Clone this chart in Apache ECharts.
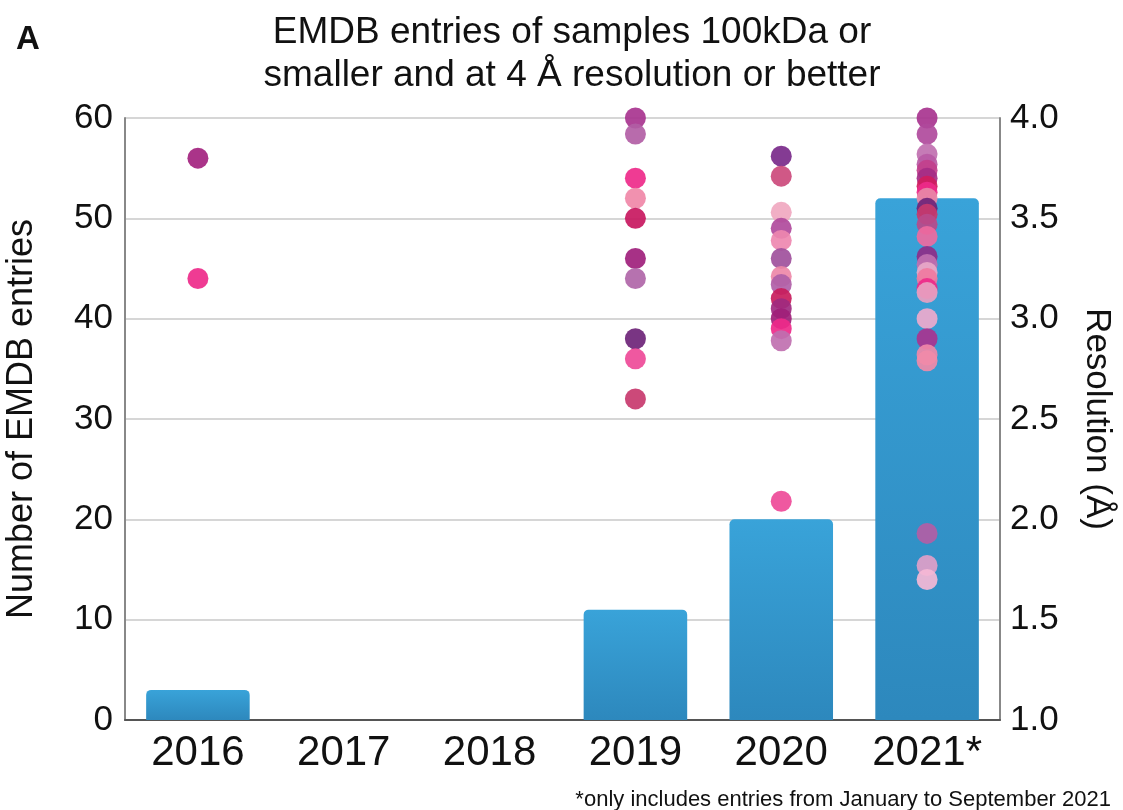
<!DOCTYPE html>
<html>
<head>
<meta charset="utf-8">
<script src="https://cdn.jsdelivr.net/npm/echarts@6/dist/echarts.min.js"></script>
<style>
html, body { margin: 0; padding: 0; background: #fff; }
#chart { width: 1123px; height: 810px; }
</style>
</head>
<body>
<div id="chart"></div>
<script>
// categories and bar counts
const years = ['2016', '2017', '2018', '2019', '2020', '2021*'];
const entryCounts = [3, 0, 0, 11, 20, 52];

// resolution (Å) of individual entries, per year
const res2016 = [3.8, 3.2];
const res2019 = [4.0, 3.92, 3.7, 3.6, 3.5, 3.3, 3.2, 2.9, 2.8, 2.6];
const res2020 = [3.81, 3.71, 3.53, 3.45, 3.39, 3.3, 3.21, 3.17, 3.1, 3.05, 3.0, 2.95, 2.89, 2.09];
const res2021 = [4.0, 3.92, 3.82, 3.77, 3.74, 3.7, 3.66, 3.63, 3.6, 3.55, 3.52, 3.47, 3.41,
    3.31, 3.27, 3.23, 3.2, 3.15, 3.13, 3.0, 2.9, 2.82, 2.79, 1.93, 1.77, 1.7];

const leftTicks = [0, 10, 20, 30, 40, 50, 60];
const rightTicks = [1.0, 1.5, 2.0, 2.5, 3.0, 3.5, 4.0];

// dot colours (style only)
const col2016 = ['#a3237f', '#ee2a8a'];
const col2019 = ['#a8348f', '#b25ea5', '#ee2a8a', '#f088a8', '#c8185f', '#a0207c', '#b066a8', '#6e2478', '#ee4a98', '#c83a6e'];
const col2020 = ['#7a2a8a', '#cc4a7c', '#f0a8c0', '#b04a9c', '#ee88b0', '#a0509c', '#ee88a8', '#b060a8',
    '#c81c5c', '#a02a80', '#a01f7a', '#ee2a8a', '#c070b0', '#ee4a98'];
const col2021 = ['#a8348f', '#b04a9c', '#c070b0', '#b85aa5', '#c2408c', '#a52c86', '#d01c5e', '#ee2a8a',
    '#e888a8', '#6e2478', '#c83a6e', '#b84a8a', '#ee6aa0', '#8e2c88', '#c070b0', '#e8a8c8', '#f07aa0',
    '#ee2a8a', '#e8a0c0', '#eeaacc', '#a8348f', '#f088a8', '#f08aa8', '#b25ea5', '#e0a0c8', '#f5b8d5'];

const FONT = 'Liberation Sans, Arial, sans-serif';

function dots(year, values, colors) {
    return values.map((v, i) => ({
        value: [year, v],
        itemStyle: { color: colors[i] }
    }));
}

const scatterData = []
    .concat(dots('2016', res2016, col2016))
    .concat(dots('2019', res2019, col2019))
    .concat(dots('2020', res2020, col2020))
    .concat(dots('2021*', res2021, col2021));

var myChart = echarts.init(document.getElementById('chart'));

myChart.setOption({
    animation: false,
    textStyle: { fontFamily: FONT },
    title: [
        {
            text: 'EMDB entries of samples 100kDa or\nsmaller and at 4 Å resolution or better',
            left: 567,
            textAlign: 'center',
            top: 6,
            textStyle: { fontSize: 37, fontWeight: 'normal', color: '#111', lineHeight: 43, fontFamily: FONT }
        },
        {
            text: 'A',
            left: 11,
            top: 18,
            textStyle: { fontSize: 33, fontWeight: 'bold', color: '#111', fontFamily: FONT }
        },
        {
            text: '*only includes entries from January to September 2021',
            right: 7,
            top: 784,
            textStyle: { fontSize: 22, fontWeight: 'normal', color: '#111', fontFamily: FONT }
        }
    ],
    grid: {
        left: 125,
        right: 123,
        top: 118,
        bottom: 90,
        containLabel: false,
        outerBoundsMode: 'none'
    },
    xAxis: {
        type: 'category',
        data: years,
        axisTick: { show: false },
        axisLine: { lineStyle: { color: '#555', width: 2 } },
        axisLabel: { fontSize: 42, color: '#111', margin: 12, interval: 0, fontFamily: FONT }
    },
    yAxis: [
        {
            type: 'value',
            min: leftTicks[0],
            max: leftTicks[leftTicks.length - 1],
            interval: 10,
            position: 'left',
            name: 'Number of EMDB entries',
            nameLocation: 'middle',
            nameGap: 85,
            nameTextStyle: { fontSize: 36, color: '#111', fontFamily: FONT },
            axisLine: { show: true, lineStyle: { color: '#888', width: 2 } },
            axisTick: { show: false },
            splitLine: { lineStyle: { color: '#c8c8c8', width: 1.5 } },
            axisLabel: { fontSize: 35, color: '#111', margin: 12, fontFamily: FONT }
        },
        {
            type: 'value',
            min: rightTicks[0],
            max: rightTicks[rightTicks.length - 1],
            interval: 0.5,
            position: 'right',
            name: 'Resolution (Å)',
            nameLocation: 'middle',
            nameGap: 79,
            nameRotate: -90,
            nameTextStyle: { fontSize: 35, color: '#111', fontFamily: FONT },
            axisLine: { show: true, lineStyle: { color: '#888', width: 2 } },
            axisTick: { show: false },
            splitLine: { show: false },
            axisLabel: {
                fontSize: 35, color: '#111', margin: 10, fontFamily: FONT,
                formatter: v => v.toFixed(1)
            }
        }
    ],
    series: [
        {
            name: 'Entries',
            type: 'bar',
            data: entryCounts,
            yAxisIndex: 0,
            barWidth: '71%',
            itemStyle: {
                borderRadius: [5, 5, 0, 0],
                color: new echarts.graphic.LinearGradient(0, 0, 0, 1, [
                    { offset: 0, color: '#39a3d9' },
                    { offset: 1, color: '#2d88bd' }
                ])
            }
        },
        {
            name: 'Resolution',
            type: 'scatter',
            yAxisIndex: 1,
            symbolSize: 21,
            data: scatterData,
            itemStyle: { opacity: 0.92 }
        }
    ]
});
</script>
</body>
</html>
